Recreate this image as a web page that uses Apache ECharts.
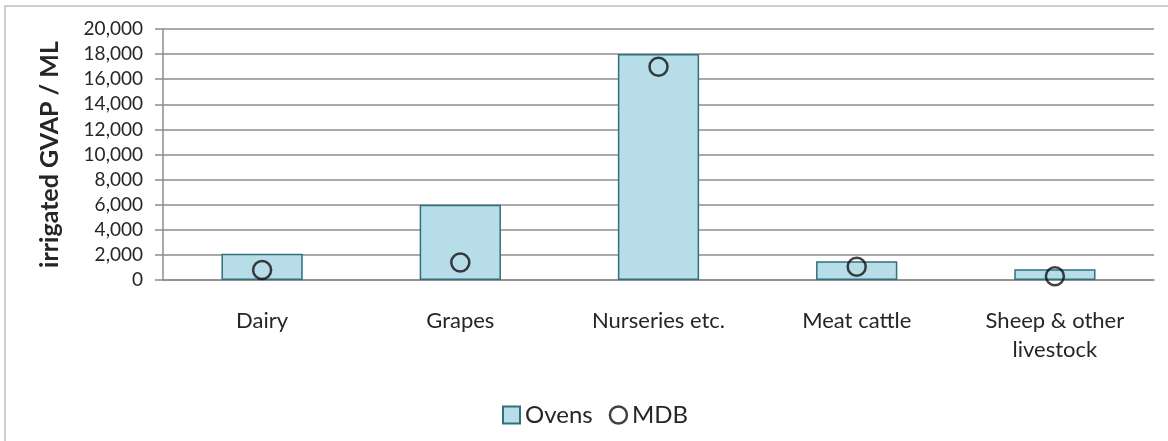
<!DOCTYPE html>
<html>
<head>
<meta charset="utf-8">
<script src="https://cdn.jsdelivr.net/npm/echarts@6/dist/echarts.min.js"></script>
<style>
  html, body { margin: 0; padding: 0; background: #fff; }
  #chart { width: 1168px; height: 441px; }
</style>
</head>
<body>
<div id="chart"></div>
<script>
// categories and values
var categories = ["Dairy", "Grapes", "Nurseries etc.", "Meat cattle", "Sheep & other\nlivestock"];
var ovens = [2100, 6000, 18000, 1500, 850];
var mdb = [800, 1400, 17000, 1050, 300];

var chart = echarts.init(document.getElementById("chart"));
var font = "Lato";
var txt = "#262626";

var option = {
  animation: false,
  textStyle: { fontFamily: font },
  // outer chart border (right and bottom run off the picture)
  graphic: [{
    type: "rect",
    shape: { x: 5, y: 6, width: 1200, height: 500 },
    style: { fill: "none", stroke: "#bfbfbf", lineWidth: 1.5 },
    z: -1
  }],
  grid: { left: 163, right: 14, top: 29, bottom: 161 },
  legend: {
    top: 398,
    left: 497,
    itemGap: 16,
    itemWidth: 17,
    itemHeight: 17,
    textStyle: { fontSize: 24, color: txt, fontFamily: font },
    data: [
      { name: "Ovens", icon: "rect" },
      { name: "MDB", icon: "circle", itemStyle: { color: "#fff", borderColor: "#111", borderWidth: 2.5 } }
    ]
  },
  xAxis: {
    type: "category",
    data: categories,
    axisLine: { lineStyle: { color: "#8c8c8c", width: 1.5 } },
    axisTick: { length: 8, lineStyle: { color: "#8c8c8c", width: 1.5 } },
    axisLabel: { fontSize: 22, color: txt, margin: 26, lineHeight: 29, fontFamily: font }
  },
  yAxis: {
    type: "value",
    min: 0,
    max: 20000,
    interval: 2000,
    name: "irrigated GVAP / ML",
    nameLocation: "middle",
    nameGap: 101,
    nameTextStyle: { fontSize: 25, fontWeight: "bold", color: txt, fontFamily: font },
    axisLine: { show: true, lineStyle: { color: "#8c8c8c", width: 1.5 } },
    axisTick: { show: true, length: 8, lineStyle: { color: "#8c8c8c", width: 1.5 } },
    axisLabel: {
      fontSize: 19,
      color: txt,
      margin: 20,
      fontFamily: font,
      formatter: function (v) { return v.toLocaleString("en-US"); }
    },
    splitLine: { lineStyle: { color: "#8c8c8c", width: 1.5 } }
  },
  series: [
    {
      name: "Ovens",
      type: "bar",
      data: ovens,
      barWidth: "41%",
      itemStyle: { color: "#b7dde8", borderColor: "#31707f", borderWidth: 1.5 }
    },
    {
      name: "MDB",
      type: "scatter",
      data: mdb,
      symbol: "circle",
      symbolSize: 18,
      itemStyle: { color: "rgba(0,0,0,0)", borderColor: "#111", borderWidth: 2.5 },
      z: 5
    }
  ]
};

chart.setOption(option);
</script>
</body>
</html>
